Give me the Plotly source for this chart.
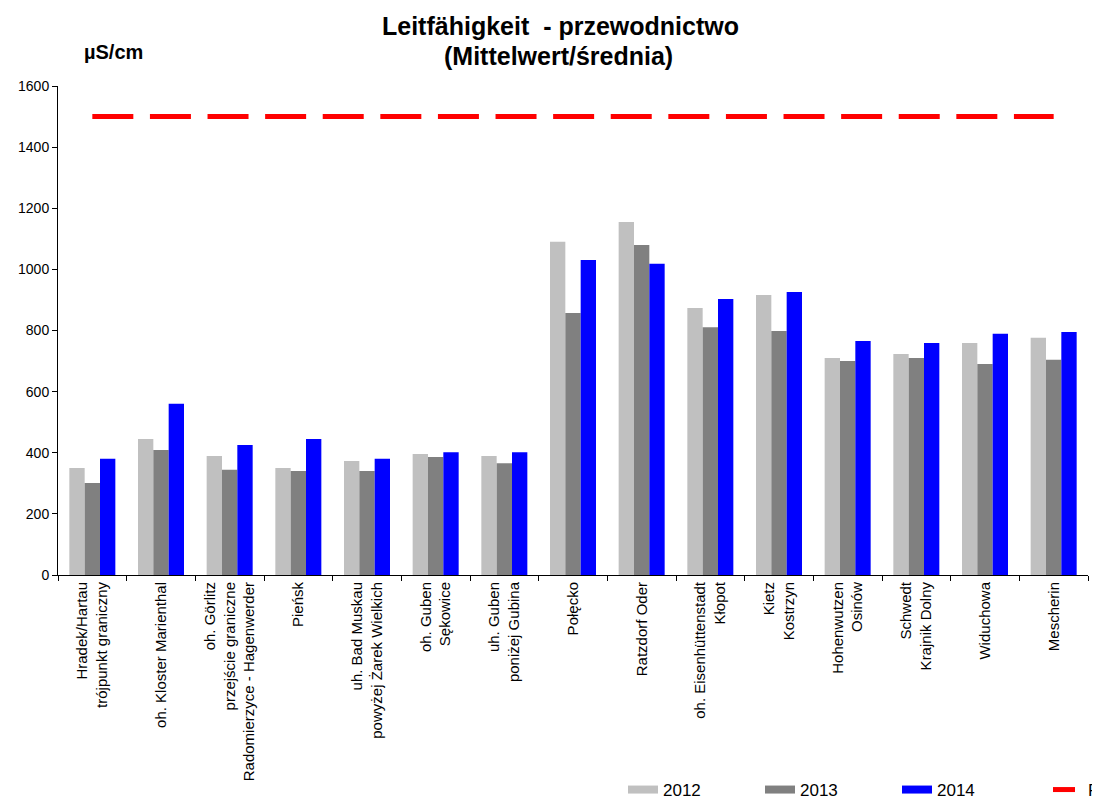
import plotly.graph_objects as go

stations = [
    "Hradek/Hartau<br>trójpunkt graniczny",
    "oh. Kloster Marienthal",
    "oh. Görlitz<br>przejście graniczne<br>Radomierzyce - Hagenwerder",
    "Pieńsk",
    "uh. Bad Muskau<br>powyżej Żarek Wielkich",
    "oh. Guben<br>Sękowice",
    "uh. Guben<br>poniżej Gubina",
    "Połęcko",
    "Ratzdorf Oder",
    "oh. Eisenhüttenstadt<br>Kłopot",
    "Kietz<br>Kostrzyn",
    "Hohenwutzen<br>Osinów",
    "Schwedt<br>Krajnik Dolny",
    "Widuchowa",
    "Mescherin",
]

v2012 = [350, 445, 389, 350, 373, 396, 389, 1090, 1155, 874, 916, 710, 723, 759, 776]
v2013 = [301, 409, 344, 340, 340, 386, 366, 857, 1080, 811, 798, 700, 710, 690, 704]
v2014 = [380, 560, 425, 445, 380, 402, 402, 1031, 1018, 903, 926, 766, 759, 789, 795]
limit = [1500] * len(stations)

years = ["2012", "2013", "2014"]
colors = ["#C0C0C0", "#808080", "#0000FF"]

font = "Liberation Sans, Arial, sans-serif"

W, H = 1100, 801
# the page puts the figure 8px in from the corner
off = 8
left, right = 58 - off, 1088 - off
top, bottom = 86 - off, 575 - off


def px(x):
    return (x - off - left) / (right - left)


def py(y):
    return (bottom - (y - off)) / (bottom - top)


fig = go.Figure()

for year, vals, col in zip(years, [v2012, v2013, v2014], colors):
    fig.add_trace(go.Bar(
        x = stations, y = vals, name = year,
        marker = dict(color = col, line = dict(width = 0)),
        showlegend = False,
    ))

fig.add_trace(go.Scatter(
    x = stations, y = limit, mode = "lines", name = "P",
    line = dict(color = "#FF0000", width = 5, dash = "41px,16.6px"),
    showlegend = False,
))

# legend entries drawn as thick lines, like the original swatches
for year, col in zip(years, colors):
    fig.add_trace(go.Scatter(
        x = [None], y = [None], mode = "lines", name = year,
        line = dict(color = col, width = 8), legend = "legend",
    ))
fig.add_trace(go.Scatter(
    x = [None], y = [None], mode = "lines", name = "P",
    line = dict(color = "#FF0000", width = 5, dash = "22px,8px"), legend = "legend2",
))

legend_common = dict(
    orientation = "h", xref = "container", yref = "container",
    xanchor = "left", y = (H - (790 - off)) / H, yanchor = "middle",
    font = dict(size = 17, family = font),
    bgcolor = "rgba(0,0,0,0)", borderwidth = 0,
)

fig.update_layout(
    width = W, height = H,
    margin = dict(l = left, r = W - right, t = top, b = H - bottom),
    paper_bgcolor = "white", plot_bgcolor = "white",
    font = dict(family = font, color = "black", size = 14),
    barmode = "group", bargap = 0.33, bargroupgap = 0,
    legend = dict(legend_common, x = (623 - off) / W, entrywidth = 92, entrywidthmode = "pixels"),
    legend2 = dict(legend_common, x = (1048 - off) / W),
    annotations = [
        dict(
            text = "<b>Leitfähigkeit  - przewodnictwo</b>",
            x = px(560), y = py(26),
            xref = "paper", yref = "paper", xanchor = "center", yanchor = "middle",
            showarrow = False, font = dict(size = 25),
        ),
        dict(
            text = "<b>(Mittelwert/średnia)</b>",
            x = px(558), y = py(56),
            xref = "paper", yref = "paper", xanchor = "center", yanchor = "middle",
            showarrow = False, font = dict(size = 25),
        ),
        dict(
            text = "<b>µS/cm</b>",
            x = px(82), y = py(52),
            xref = "paper", yref = "paper", xanchor = "left", yanchor = "middle",
            showarrow = False, font = dict(size = 20),
        ),
    ],
)

fig.update_xaxes(
    automargin = False,
    showline = True, linecolor = "black", linewidth = 1,
    ticks = "outside", ticklen = 5, tickcolor = "black", tickson = "boundaries",
    tickangle = -90, tickfont = dict(size = 15), showgrid = False,
)
fig.update_yaxes(
    automargin = False,
    range = [0, 1600], dtick = 200, showline = True, linecolor = "black", linewidth = 1,
    ticks = "outside", ticklen = 5, tickcolor = "black", showgrid = False,
    zeroline = False, tickfont = dict(size = 14),
)

fig.write_html("out.html")
